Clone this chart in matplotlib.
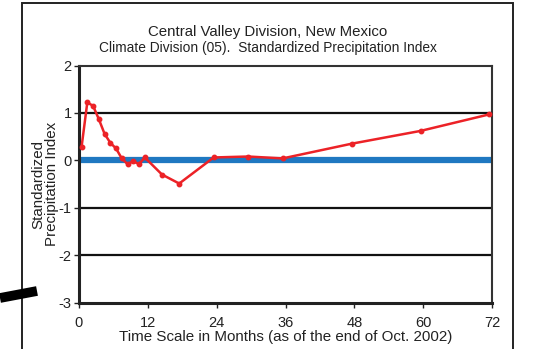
import matplotlib
matplotlib.use("Agg")
import matplotlib.pyplot as plt
from matplotlib.lines import Line2D
from matplotlib.patches import Rectangle

plt.rcParams["font.family"] = ["Liberation Sans", "DejaVu Sans"]
plt.rcParams["axes.unicode_minus"] = False

# SPI value for each time scale (months)
MONTHS = [1, 2, 3, 4, 5, 6, 7, 8, 9, 10, 11, 12, 15, 18, 24, 30, 36, 48, 60, 72]
SPI = [0.28, 1.22, 1.15, 0.87, 0.56, 0.37, 0.25, 0.04, -0.08, -0.02, -0.08, 0.06,
       -0.30, -0.49, 0.06, 0.08, 0.04, 0.35, 0.62, 0.97]
X_TICKS = [0, 12, 24, 36, 48, 60, 72]
Y_TICKS = [-3, -2, -1, 0, 1, 2]
GRID_LEVELS = [-2, -1, 1]

TITLE = "Central Valley Division, New Mexico"
SUBTITLE = "Climate Division (05).  Standardized Precipitation Index"
XLABEL = "Time Scale in Months (as of the end of Oct. 2002)"
YLABEL = "Standardized\nPrecipitation Index"

fig = plt.figure(figsize=(5.36, 3.49), dpi=100)
ax = fig.add_axes([0.1468, 0.1332, 0.7717, 0.6791])

# outer frame of the figure box
fig.add_artist(Rectangle((22 / 536, -0.05), (513 - 22) / 536, 1.05 - 3 / 349,
                         transform=fig.transFigure, fill=False,
                         edgecolor="#222222", linewidth=1.4))
# stray black stroke at lower left
fig.add_artist(Line2D([0, 37 / 536], [1 - 298 / 349, 1 - 291 / 349],
                      transform=fig.transFigure, color="black", linewidth=7,
                      solid_capstyle="butt"))

for lvl in GRID_LEVELS:
    ax.axhline(lvl, color="#111111", linewidth=1.6, zorder=1)
ax.axhline(0, color="#1f78c1", linewidth=4.5, zorder=2)

xs = [m - 0.5 for m in MONTHS]
ax.plot(xs, SPI, color="#ec2227", linewidth=1.8, marker="o", markersize=3.2,
        zorder=3, clip_on=False)

ax.set_xlim(0, 72)
ax.set_ylim(-3, 2)
ax.set_xticks(X_TICKS)
ax.set_yticks(Y_TICKS)
ax.tick_params(axis="both", direction="out", length=3.5, width=1.0,
               labelsize=10.5, colors="#222222", pad=1.5)
ax.tick_params(axis="x", pad=6)

for side in ["left", "bottom"]:
    ax.spines[side].set_linewidth(2.2)
    ax.spines[side].set_color("#222222")
for side in ["top", "right"]:
    ax.spines[side].set_linewidth(1.5)
    ax.spines[side].set_color("#333333")

ax.set_xlabel(XLABEL, fontsize=10.9, labelpad=0, color="#222222")
ax.set_ylabel(YLABEL, fontsize=10.9, color="#222222", linespacing=1.0)
ax.yaxis.set_label_coords(-0.047, 0.5)

fig.text(0.5, 1 - 32 / 349, TITLE, ha="center", va="center", fontsize=10.8,
         color="#222222")
fig.text(0.5, 1 - 48 / 349, SUBTITLE, ha="center", va="center", fontsize=9.9,
         color="#222222")

fig.savefig("out.png", dpi=100)
